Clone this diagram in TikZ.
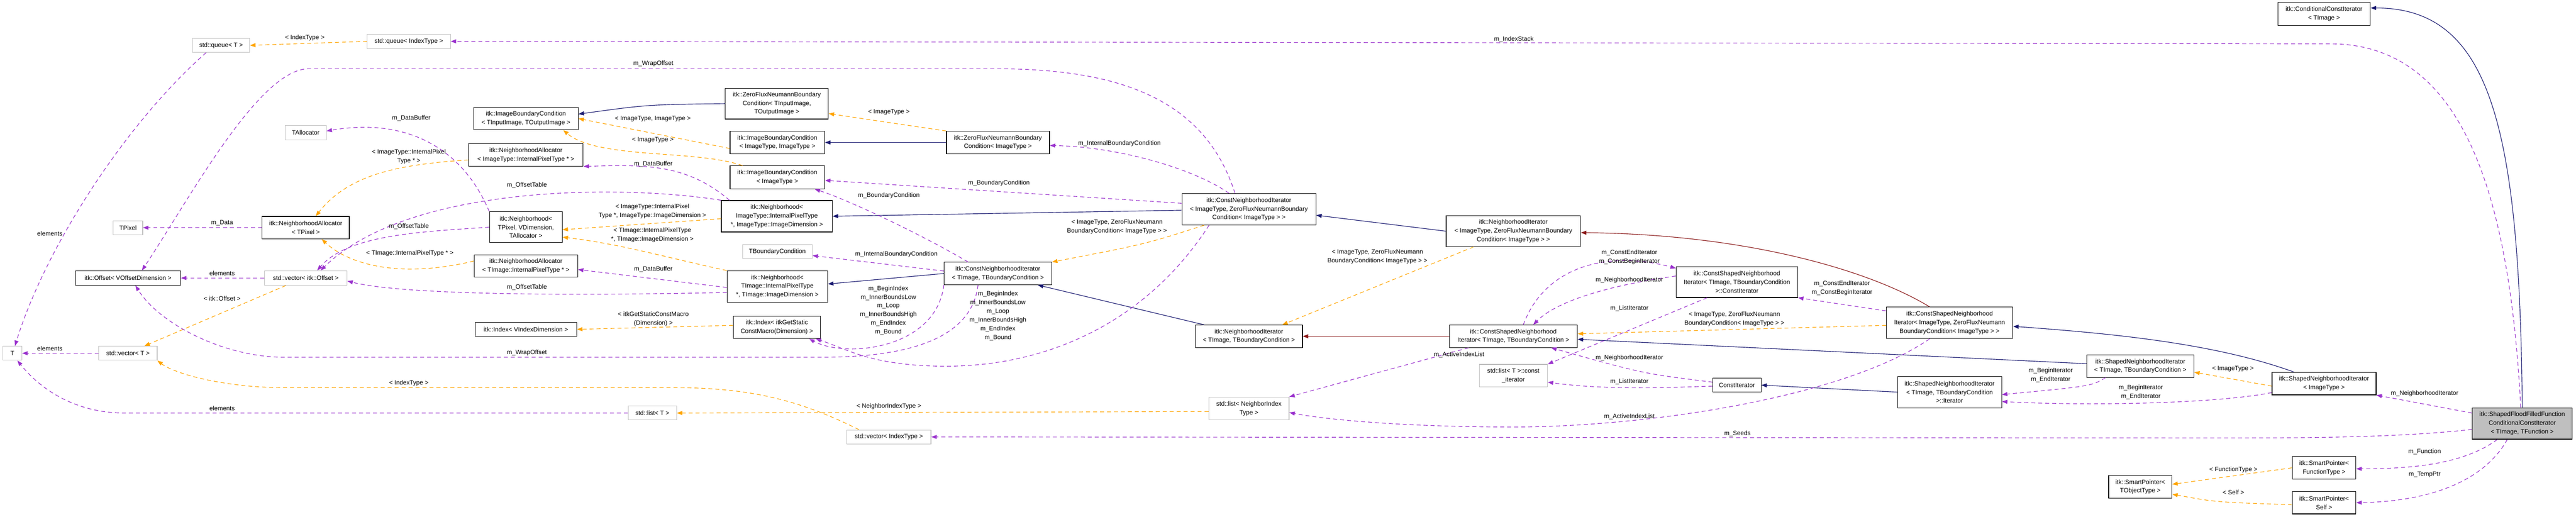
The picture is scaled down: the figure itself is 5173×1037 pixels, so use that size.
\documentclass[tikz,border=0pt]{standalone}
\usepackage{fontspec}
\setmainfont{Liberation Sans}
\usetikzlibrary{arrows.meta}
\definecolor{navyc}{HTML}{191970}
\definecolor{redc}{HTML}{8B1A1A}
\definecolor{usec}{HTML}{9A32CD}
\definecolor{tplc}{HTML}{FFA500}
\definecolor{greyb}{HTML}{BFBFBF}
\newcommand\dfont{\fontsize{12.5}{17.4}\selectfont}
\begin{document}
\begin{tikzpicture}[x=1pt,y=-1pt,
 box/.style={draw=black,line width=1.2pt,fill=white,inner sep=1pt,align=center,font=\dfont},
 gbox/.style={box,draw=greyb},
 lbl/.style={font=\dfont,align=center,inner sep=0pt},
 tip/.style={-{Triangle[length=11pt,width=8pt]}},
 inh/.style={draw=navyc,line width=1.2pt,tip},
 priv/.style={draw=redc,line width=1.2pt,tip},
 use/.style={draw=usec,line width=1.2pt,dash pattern=on 8pt off 6pt,tip},
 tpl/.style={draw=tplc,line width=1.2pt,dash pattern=on 8pt off 6pt,tip}]
\useasboundingbox (0,0) rectangle (5173,1037);
% nodes
\node[gbox,minimum width=115,minimum height=28] (queueT) at (444,91) {std::queue< T >};
\node[gbox,minimum width=167,minimum height=29] (queueIdx) at (821,83) {std::queue< IndexType >};
\node[gbox,minimum width=82,minimum height=29] (TAlloc) at (614,266) {TAllocator};
\node[gbox,minimum width=59,minimum height=28] (TPixel) at (257,457) {TPixel};
\node[box,minimum width=175,minimum height=45] (NATP) at (614,457) {itk::NeighborhoodAllocator\\< TPixel >};
\node[box,minimum width=211,minimum height=29] (Offset) at (257,558) {itk::Offset< VOffsetDimension >};
\node[gbox,minimum width=166,minimum height=29] (vecOff) at (614,558) {std::vector< itk::Offset >};
\node[gbox,minimum width=38,minimum height=28] (T) at (25,709) {T};
\node[gbox,minimum width=117,minimum height=28] (vecT) at (257,709) {std::vector< T >};
\node[box,minimum width=210,minimum height=45] (IBCTT) at (1056,238) {itk::ImageBoundaryCondition\\< TInputImage, TOutputImage >};
\node[box,minimum width=207,minimum height=62] (ZFNTT) at (1560,208) {itk::ZeroFluxNeumannBoundary\\Condition< TInputImage,\\TOutputImage >};
\node[box,minimum width=190,minimum height=45] (IBCII) at (1561,286) {itk::ImageBoundaryCondition\\< ImageType, ImageType >};
\node[box,minimum width=190,minimum height=46] (IBCI) at (1561,356) {itk::ImageBoundaryCondition\\< ImageType >};
\node[box,minimum width=230,minimum height=45] (NAIT) at (1056,311) {itk::NeighborhoodAllocator\\< ImageType::InternalPixelType * >};
\node[box,minimum width=223,minimum height=63] (NIT) at (1560,434) {itk::Neighborhood<\\ImageType::InternalPixelType\\*, ImageType::ImageDimension >};
\node[box,minimum width=146,minimum height=62] (NTP) at (1056,456) {itk::Neighborhood<\\TPixel, VDimension,\\TAllocator >};
\node[gbox,minimum width=140,minimum height=28] (TBC) at (1561,505) {TBoundaryCondition};
\node[box,minimum width=208,minimum height=45] (NATI) at (1056,534) {itk::NeighborhoodAllocator\\< TImage::InternalPixelType * >};
\node[box,minimum width=202,minimum height=63] (NTI) at (1561,575) {itk::Neighborhood<\\TImage::InternalPixelType\\*, TImage::ImageDimension >};
\node[box,minimum width=204,minimum height=28] (IdxV) at (1056,661) {itk::Index< VIndexDimension >};
\node[box,minimum width=175,minimum height=45] (IdxG) at (1560,657) {itk::Index< itkGetStatic\\ConstMacro(Dimension) >};
\node[gbox,minimum width=97,minimum height=28] (listT) at (1310,829) {std::list< T >};
\node[box,minimum width=207,minimum height=45] (ZFNI) at (2004,286) {itk::ZeroFluxNeumannBoundary\\Condition< ImageType >};
\node[box,minimum width=269,minimum height=63] (CNIIZ) at (2508,420) {itk::ConstNeighborhoodIterator\\< ImageType, ZeroFluxNeumannBoundary\\Condition< ImageType > >};
\node[box,minimum width=216,minimum height=45] (CNITT) at (2004,549) {itk::ConstNeighborhoodIterator\\< TImage, TBoundaryCondition >};
\node[box,minimum width=215,minimum height=45] (NITT) at (2508,675) {itk::NeighborhoodIterator\\< TImage, TBoundaryCondition >};
\node[gbox,minimum width=161,minimum height=46] (listNIT) at (2508,820) {std::list< NeighborIndex\\Type >};
\node[gbox,minimum width=169,minimum height=28] (vecIdx) at (1785,877) {std::vector< IndexType >};
\node[box,minimum width=270,minimum height=62] (NIIZ) at (3039,464) {itk::NeighborhoodIterator\\< ImageType, ZeroFluxNeumannBoundary\\Condition< ImageType > >};
\node[box,minimum width=257,minimum height=45] (CSNITT) at (3039,675) {itk::ConstShapedNeighborhood\\Iterator< TImage, TBoundaryCondition >};
\node[box,minimum width=244,minimum height=62] (CIter) at (3488,566) {itk::ConstShapedNeighborhood\\Iterator< TImage, TBoundaryCondition\\>::ConstIterator};
\node[gbox,minimum width=137,minimum height=45] (listC) at (3039,754) {std::list< T >::const\\\_iterator};
\node[box,minimum width=97,minimum height=28] (ConstIt) at (3488,773) {ConstIterator};
\node[box,minimum width=254,minimum height=63] (CSNIIZ) at (3915,648) {itk::ConstShapedNeighborhood\\Iterator< ImageType, ZeroFluxNeumann\\BoundaryCondition< ImageType > >};
\node[box,minimum width=215,minimum height=45] (SNITT) at (4298,735) {itk::ShapedNeighborhoodIterator\\< TImage, TBoundaryCondition >};
\node[box,minimum width=209,minimum height=63] (Iter) at (3915,787) {itk::ShapedNeighborhoodIterator\\< TImage, TBoundaryCondition\\>::Iterator};
\node[box,minimum width=127,minimum height=45] (SPT) at (4298,977) {itk::SmartPointer<\\TObjectType >};
\node[box,minimum width=186,minimum height=46] (Cond) at (4667,28) {itk::ConditionalConstIterator\\< TImage >};
\node[box,minimum width=209,minimum height=45] (SNII) at (4667,770) {itk::ShapedNeighborhoodIterator\\< ImageType >};
\node[box,fill=greyb,minimum width=201,minimum height=63] (Flood) at (5065,850) {itk::ShapedFloodFilledFunction\\ConditionalConstIterator\\< TImage, TFunction >};
\node[box,minimum width=128,minimum height=45] (SPF) at (4667,939) {itk::SmartPointer<\\FunctionType >};
\node[box,minimum width=128,minimum height=45] (SPS) at (4667,1009) {itk::SmartPointer<\\Self >};
% inheritance
\draw[inh] (ZFNTT.west) .. controls (1300,210) .. ([yshift=9]IBCTT.east);
\draw[inh] (ZFNI.west) -- (IBCII.east);
\draw[inh] ([yshift=-2]CNIIZ.west) -- (NIT.east);
\draw[inh] (CNITT.west) -- ([yshift=5]NTI.east);
\draw[inh] ([xshift=-90]NITT.north) -- ([xshift=80]CNITT.south);
\draw[inh] (NIIZ.west) -- ([yshift=-12]CNIIZ.east);
\draw[priv] (CSNITT.west) -- (NITT.east);
\draw[priv] ([xshift=-40]CSNIIZ.north) .. controls (3750,540) and (3500,470) .. ([yshift=-3]NIIZ.east);
\draw[inh] ([yshift=5]SNITT.west) -- ([yshift=-6]CSNITT.east);
\draw[inh] ([xshift=-60]SNII.north) .. controls (4450,690) and (4250,670) .. ([yshift=-7]CSNIIZ.east);
\draw[inh] (Iter.west) -- (ConstIt.east);
\draw[inh] (Flood.north) .. controls (5060,250) and (5000,16) .. ([yshift=12]Cond.east);
% templates
\draw[tpl] (queueIdx.west) -- (queueT.east);
\draw[tpl] ([yshift=-10]NAIT.west) .. controls (800,330) and (700,350) .. ([xshift=20]NATP.north);
\draw[tpl] ([yshift=10]NATI.west) .. controls (800,560) and (700,530) .. ([xshift=32]NATP.south);
\draw[tpl] ([xshift=-40]vecOff.south) -- ([xshift=33]vecT.north);
\draw[tpl] ([xshift=-60]vecIdx.north) .. controls (1600,800) and (1500,778) .. (1350,778) -- (570,778) .. controls (450,778) and (350,750) .. (vecT.south east);
\draw[tpl] ([yshift=-12]IBCII.west) -- (IBCTT.east);
\draw[tpl] ([xshift=-70]IBCI.north) .. controls (1400,300) and (1200,320) .. ([xshift=75]IBCTT.south);
\draw[tpl] (ZFNI.north west) -- ([yshift=-20]ZFNTT.east);
\draw[tpl] ([yshift=-5]NIT.west) -- ([yshift=-5]NTP.east);
\draw[tpl] (NTI.north west) .. controls (1350,520) and (1250,490) .. ([yshift=-20]NTP.east);
\draw[tpl] ([yshift=4]IdxG.west) -- (IdxV.east);
\draw[tpl] ([xshift=-90]CNIIZ.south) .. controls (2300,490) .. (CNITT.north east);
\draw[tpl] ([xshift=-80]NIIZ.south) -- ([xshift=67]NITT.north);
\draw[tpl] ([yshift=-5]CSNIIZ.west) -- ([yshift=5]CSNITT.east);
\draw[tpl] ([yshift=-5]SNII.west) -- ([yshift=-12]SNITT.east);
\draw[tpl] (SPF.west) -- ([yshift=5]SPT.east);
\draw[tpl] ([yshift=-4]SPS.west) .. controls (4450,1008) .. ([yshift=-15]SPT.east);
\draw[tpl] ([yshift=-6]listNIT.west) -- (listT.east);
% usage
\draw[use] ([xshift=-30]queueT.south) .. controls (250,250) and (90,500) .. ([xshift=5]T.north);
\draw[use] (NATP.west) -- (TPixel.east);
\draw[use] (NTP.north west) .. controls (930,300) and (820,235) .. ([yshift=3]TAlloc.east);
\draw[use] ([xshift=-95]NIT.north) .. controls (1380,330) and (1300,330) .. (NAIT.south east);
\draw[use] ([yshift=-2]NTI.west) -- ([yshift=-7]NATI.east);
\draw[use] (NTP.west) .. controls (850,465) and (700,470) .. ([xshift=23]vecOff.north);
\draw[use] (NIT.north west) .. controls (1250,370) and (820,370) .. ([xshift=30]vecOff.north);
\draw[use] ([yshift=-12]NTI.west) .. controls (1100,595) and (800,590) .. ([yshift=-6]vecOff.east);
\draw[use] ([xshift=-28]CNIIZ.north) .. controls (2420,200) and (2250,138) .. (2000,138) -- (620,138) .. controls (520,138) and (380,400) .. ([xshift=28]Offset.north);
\draw[use] ([xshift=-40]CNITT.south) .. controls (1950,690) and (1800,717) .. (1650,717) -- (570,717) .. controls (450,717) and (320,650) .. ([xshift=15]Offset.south);
\draw[use] (CNITT.south west) .. controls (1880,700) and (1700,720) .. ([xshift=65]IdxG.south);
\draw[use] ([xshift=-80]CNIIZ.south) .. controls (2300,650) and (2100,735) .. (1900,735) .. controls (1750,735) and (1700,700) .. ([xshift=78]IdxG.south);
\draw[use] ([xshift=-40]CNIIZ.north) .. controls (2400,340) and (2250,295) .. ([yshift=-6]ZFNI.east);
\draw[use] ([yshift=12]CNIIZ.west) -- ([yshift=-6]IBCI.east);
\draw[use] ([xshift=-60]CNITT.north) .. controls (1850,470) and (1700,400) .. ([xshift=75]IBCI.south);
\draw[use] ([yshift=5]CNITT.west) -- ([yshift=-8]TBC.east);
\draw[use] ([xshift=-90]CSNITT.south) -- (listNIT.north east);
\draw[use] ([xshift=-40]CSNIIZ.south) .. controls (3700,800) and (3300,857) .. (3040,857) .. controls (2800,857) and (2650,840) .. ([yshift=-8]listNIT.east);
\draw[use] ([yshift=12]CIter.west) .. controls (3250,570) and (3130,600) .. ([xshift=40]CSNITT.north);
\draw[use] ([xshift=20]CSNITT.north) .. controls (3100,540) and (3220,500) .. ([yshift=-4]CIter.north west);
\draw[use] ([xshift=-60]CIter.south) -- (listC.north east);
\draw[use] ([yshift=6]ConstIt.west) .. controls (3300,750) .. ([xshift=76]CSNITT.south);
\draw[use] ([yshift=-2]ConstIt.west) .. controls (3300,780) and (3200,780) .. ([yshift=-13]listC.east);
\draw[use] ([yshift=24]CSNIIZ.west) -- (CIter.south east);
\draw[use] ([xshift=-70]SNITT.south) .. controls (4200,775) .. ([yshift=-5]Iter.east);
\draw[use] ([yshift=-18]SNII.west) .. controls (4450,810) and (4200,815) .. ([yshift=-19]Iter.east);
\draw[use] ([yshift=21]Flood.west) -- (SNII.south east);
\draw[use] ([yshift=-12]Flood.west) .. controls (4800,880) and (4600,879) .. (4400,879) -- (vecIdx.east);
\draw[use] ([xshift=-3]Flood.north) .. controls (5040,400) and (4950,88) .. (4680,88) -- (queueIdx.east);
\draw[use] ([xshift=-50]Flood.south) .. controls (4950,930) and (4850,941) .. ([yshift=-2]SPF.east);
\draw[use] ([xshift=-30]Flood.south) .. controls (4980,980) and (4850,1007) .. (SPS.east);
\draw[use] (listT.west) -- (250,829) .. controls (150,829) and (80,780) .. ([xshift=10]T.south);
\draw[use] (vecT.west) -- (T.east);
\draw[use] (vecOff.west) -- (Offset.east);
% labels
\node[lbl] (l1) at (612,76) {< IndexType >};
\node[lbl] (l2) at (821,314) {< ImageType::InternalPixel\\Type * >};
\node[lbl] (l3) at (823,508) {< TImage::InternalPixelType * >};
\node[lbl] (l4) at (446,599) {< itk::Offset >};
\node[lbl] (l5) at (821,769) {< IndexType >};
\node[lbl] (l6) at (1311,239) {< ImageType, ImageType >};
\node[lbl] (l7) at (1311,281) {< ImageType >};
\node[lbl] (l8) at (1785,225) {< ImageType >};
\node[lbl] (l9) at (1310,424) {< ImageType::InternalPixel\\Type *, ImageType::ImageDimension >};
\node[lbl] (l10) at (1310,472) {< TImage::InternalPixelType\\*, TImage::ImageDimension >};
\node[lbl] (l11) at (1312,640) {< itkGetStaticConstMacro\\(Dimension) >};
\node[lbl] (l12) at (2243,455) {< ImageType, ZeroFluxNeumann\\BoundaryCondition< ImageType > >};
\node[lbl] (l13) at (2766,515) {< ImageType, ZeroFluxNeumann\\BoundaryCondition< ImageType > >};
\node[lbl] (l14) at (3483,640) {< ImageType, ZeroFluxNeumann\\BoundaryCondition< ImageType > >};
\node[lbl] (l15) at (4484,740) {< ImageType >};
\node[lbl] (l16) at (4485,943) {< FunctionType >};
\node[lbl] (l17) at (4485,988) {< Self >};
\node[lbl] (l18) at (1785,816) {< NeighborIndexType >};
\node[lbl] (m1) at (100,469) {elements};
\node[lbl] (m2) at (446,448) {m\_Data};
\node[lbl] (m3) at (826,237) {m\_DataBuffer};
\node[lbl] (m4) at (1312,329) {m\_DataBuffer};
\node[lbl] (m5) at (1312,540) {m\_DataBuffer};
\node[lbl] (m6) at (821,455) {m\_OffsetTable};
\node[lbl] (m7) at (1058,372) {m\_OffsetTable};
\node[lbl] (m8) at (1058,577) {m\_OffsetTable};
\node[lbl] (m9) at (1312,128) {m\_WrapOffset};
\node[lbl] (m10) at (1058,708) {m\_WrapOffset};
\node[lbl] (m11) at (1784,623) {m\_BeginIndex\\m\_InnerBoundsLow\\m\_Loop\\m\_InnerBoundsHigh\\m\_EndIndex\\m\_Bound};
\node[lbl] (m12) at (2004,634) {m\_BeginIndex\\m\_InnerBoundsLow\\m\_Loop\\m\_InnerBoundsHigh\\m\_EndIndex\\m\_Bound};
\node[lbl] (m13) at (2248,288) {m\_InternalBoundaryCondition};
\node[lbl] (m14) at (2006,368) {m\_BoundaryCondition};
\node[lbl] (m15) at (1785,393) {m\_BoundaryCondition};
\node[lbl] (m16) at (1800,510) {m\_InternalBoundaryCondition};
\node[lbl] (m17) at (2930,712) {m\_ActiveIndexList};
\node[lbl] (m18) at (3272,836) {m\_ActiveIndexList};
\node[lbl] (m19) at (3272,562) {m\_NeighborhoodIterator};
\node[lbl] (m20) at (3272,516) {m\_ConstEndIterator\\m\_ConstBeginIterator};
\node[lbl] (m21) at (3272,619) {m\_ListIterator};
\node[lbl] (m22) at (3272,718) {m\_NeighborhoodIterator};
\node[lbl] (m23) at (3272,766) {m\_ListIterator};
\node[lbl] (m24) at (3699,578) {m\_ConstEndIterator\\m\_ConstBeginIterator};
\node[lbl] (m25) at (4118,753) {m\_BeginIterator\\m\_EndIterator};
\node[lbl] (m26) at (4299,787) {m\_BeginIterator\\m\_EndIterator};
\node[lbl] (m27) at (4869,790) {m\_NeighborhoodIterator};
\node[lbl] (m28) at (3489,870) {m\_Seeds};
\node[lbl] (m29) at (3040,79) {m\_IndexStack};
\node[lbl] (m30) at (4869,907) {m\_Function};
\node[lbl] (m31) at (4869,952) {m\_TempPtr};
\node[lbl] (m32) at (446,820) {elements};
\node[lbl] (m33) at (100,700) {elements};
\node[lbl] (m34) at (446,549) {elements};
\end{tikzpicture}
\end{document}
